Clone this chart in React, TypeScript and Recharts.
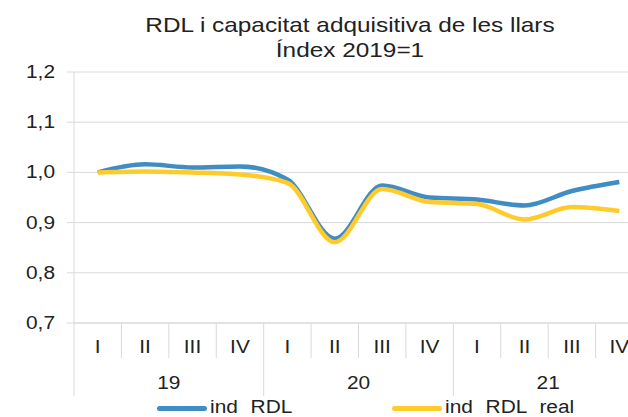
import React from 'react';
import { LineChart, Line, XAxis, YAxis, CartesianGrid } from 'recharts';

const quarters = ['I', 'II', 'III', 'IV', 'I', 'II', 'III', 'IV', 'I', 'II', 'III', 'IV'];
const years = ['19', '19', '19', '19', '20', '20', '20', '20', '21', '21', '21', '21'];
const indRDL = [1.0, 1.016, 1.01, 1.012, 0.986, 0.868, 0.974, 0.95, 0.946, 0.934, 0.963, 0.981];
const indRDLReal = [1.0, 1.002, 1.0, 0.996, 0.979, 0.861, 0.967, 0.941, 0.937, 0.906, 0.931, 0.923];
const yTicks = [0.7, 0.8, 0.9, 1.0, 1.1, 1.2];

const BLUE = '#3f8dc4';
const YELLOW = '#ffcb2b';
const GRID = '#d9d9d9';
const TEXT = '#222';
const FONT = '"Liberation Sans", Arial, sans-serif';
const STRETCH = 1.16;

const CHART_W = 645;
const CHART_H = 417;
const Y_W = 74;
const M_RIGHT = 2;
const BAND = (CHART_W - Y_W - M_RIGHT) / quarters.length;

const data = quarters.map((q, i) => ({
  key: `${years[i]}-${q}-${i}`,
  'ind RDL': indRDL[i],
  'ind RDL real': indRDLReal[i],
}));

// svg text widened like the reference
const WideText = ({ x, y, anchor = 'middle', children }: any) => (
  <text
    x={x}
    y={y}
    textAnchor={anchor}
    fontSize={18}
    fill={TEXT}
    fontFamily={FONT}
    transform={`translate(${x},0) scale(${STRETCH},1) translate(${-x},0)`}
  >
    {children}
  </text>
);

const QuarterTick = (props: any) => {
  const { x, y, payload } = props;
  const i = payload.index;
  const left = x - BAND / 2;
  const firstOfYear = i % 4 === 0;
  return (
    <g>
      <line x1={left} y1={y} x2={left} y2={y + (firstOfYear ? 73 : 35)} stroke={GRID} />
      <WideText x={x} y={y + 30}>{quarters[i]}</WideText>
      {i % 4 === 1 && <WideText x={x + BAND / 2} y={y + 66}>{years[i]}</WideText>}
    </g>
  );
};

const ValueTick = (props: any) => {
  const { x, y, payload } = props;
  return (
    <WideText x={x} y={y + 6} anchor="end">
      {Number(payload.value).toFixed(1).replace('.', ',')}
    </WideText>
  );
};

const legendText = {
  position: 'absolute' as const,
  top: 0,
  lineHeight: '22px',
  wordSpacing: 6,
  whiteSpace: 'nowrap' as const,
  transform: `scaleX(${STRETCH})`,
  transformOrigin: 'left',
};

export default function App() {
  return (
    <div style={{ position: 'absolute', left: 0, top: 0, width: 628, height: 417, overflow: 'hidden', background: '#fff' }}>
      <div
        style={{
          position: 'absolute', left: 150, width: 400, top: 12, textAlign: 'center',
          fontFamily: FONT, fontSize: 21, color: TEXT, lineHeight: '25px',
          transform: `scaleX(${STRETCH})`, zIndex: 2,
        }}
      >
        RDL i capacitat adquisitiva de les llars
        <br />
        Índex 2019=1
      </div>
      <LineChart width={CHART_W} height={CHART_H} data={data} margin={{ top: 72, right: M_RIGHT, left: 0, bottom: 22 }}>
        <CartesianGrid vertical={false} stroke={GRID} />
        <XAxis
          dataKey="key"
          height={72}
          interval={0}
          padding={{ left: BAND / 2, right: BAND / 2 }}
          tickSize={0}
          tickMargin={0}
          tickLine={false}
          axisLine={{ stroke: GRID }}
          tick={<QuarterTick />}
        />
        <YAxis
          width={Y_W}
          domain={[0.7, 1.2]}
          ticks={yTicks}
          tickSize={7}
          tickMargin={12}
          axisLine={{ stroke: GRID }}
          tickLine={{ stroke: GRID }}
          tick={<ValueTick />}
        />
        <Line type="monotone" dataKey="ind RDL" stroke={BLUE} strokeWidth={4.5} dot={false} isAnimationActive={false} />
        <Line type="monotone" dataKey="ind RDL real" stroke={YELLOW} strokeWidth={4.5} dot={false} isAnimationActive={false} />
      </LineChart>
      <div style={{ position: 'absolute', left: 0, top: 396, width: 628, height: 22, fontFamily: FONT, fontSize: 18, color: TEXT }}>
        <div style={{ position: 'absolute', left: 157, top: 10, width: 50, height: 5, borderRadius: 3, background: BLUE }} />
        <div style={{ ...legendText, left: 210 }}>ind RDL</div>
        <div style={{ position: 'absolute', left: 392, top: 10, width: 50, height: 5, borderRadius: 3, background: YELLOW }} />
        <div style={{ ...legendText, left: 445 }}>ind RDL real</div>
      </div>
    </div>
  );
}
